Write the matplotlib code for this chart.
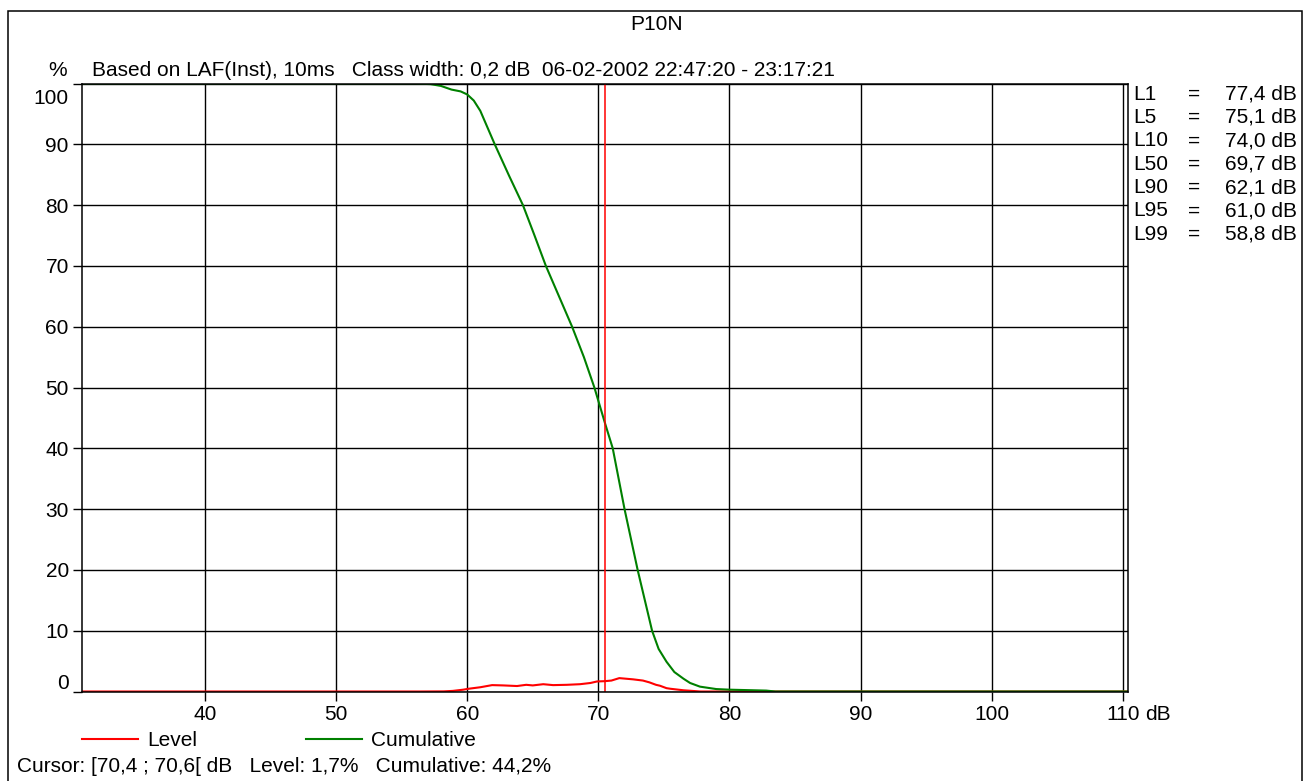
import matplotlib
matplotlib.use('Agg')
from matplotlib import pyplot as plt
from matplotlib.patches import Rectangle
from matplotlib.transforms import ScaledTranslation

plt.rcParams['font.family'] = ['Liberation Sans', 'DejaVu Sans']

# cumulative distribution (percent of time level exceeded)
cum_db = [30.6, 56.0, 57.2, 58.0, 58.8, 59.5, 60.0, 60.5, 61.0, 61.5, 62.1, 63.2, 64.25,
          65.1, 66.0, 67.0, 68.0, 68.9, 69.7, 70.5, 71.1, 72.0, 73.0, 74.1, 74.6,
          75.2, 75.8, 76.5, 77.0, 77.75, 79.0, 80.0, 82.8, 83.5, 110.4]
cum_pct = [100, 100, 99.9, 99.6, 99.0, 98.7, 98.2, 97.2, 95.5, 93.0, 90, 84.8, 80,
           75.2, 70, 65, 60, 55, 50, 44.2, 40, 30, 20, 10, 7.0,
           4.9, 3.2, 2.1, 1.4, 0.8, 0.4, 0.3, 0.15, 0.0, 0.0]

# level per 0.2 dB class
lev_db = [30.6, 56.4, 58.2, 58.9, 59.7, 60.1, 61.0, 61.9, 62.75, 63.8, 64.5, 65.0,
          65.8, 66.55, 67.6, 68.6, 69.4, 69.9, 70.5, 71.0, 71.6, 72.65, 73.4, 73.9,
          74.4, 74.7, 75.2, 75.5, 76.5, 77.8, 110.4]
lev_pct = [0, 0, 0.02, 0.1, 0.3, 0.45, 0.7, 1.05, 1.0, 0.9, 1.1, 1.0,
           1.2, 1.05, 1.1, 1.2, 1.4, 1.65, 1.7, 1.8, 2.2, 2.0, 1.8, 1.5,
           1.1, 0.95, 0.55, 0.45, 0.2, 0.0, 0.0]

cursor_db = 70.5
x_ticks = [40, 50, 60, 70, 80, 90, 100, 110]
y_ticks = [0, 10, 20, 30, 40, 50, 60, 70, 80, 90, 100]

stat_names = ['L1', 'L5', 'L10', 'L50', 'L90', 'L95', 'L99']
stat_values = ['77,4 dB', '75,1 dB', '74,0 dB', '69,7 dB', '62,1 dB', '61,0 dB', '58,8 dB']

W, H = 1311, 781
FS = 15

fig = plt.figure(figsize=(W / 100, H / 100), dpi=100)
fig.patches.append(Rectangle((7.5 / W, -0.05), (1302 - 7.5) / W, 1.05 - 10.7 / H,
                             transform=fig.transFigure, fill=False,
                             edgecolor='black', linewidth=1.1))

ax = fig.add_axes([82 / W, 1 - 691.5 / H, (1128 - 82) / W, (691.5 - 83.5) / H])
ax.set_xlim(30.62, 110.4)
ax.set_ylim(0, 100)

ax.set_xticks(x_ticks)
ax.set_yticks(y_ticks)
ax.grid(True, color='black', linewidth=1.0)
ax.set_axisbelow(True)
for s in ax.spines.values():
    s.set_linewidth(1.1)
ax.tick_params(direction='out', length=6.5, width=1.0, labelsize=FS)
ax.tick_params(axis='x', pad=3.5)
ax.tick_params(axis='y', pad=3.0)

# keep the end labels inside the axis range
ticks = ax.yaxis.get_major_ticks()
lab0, lab100 = ticks[0].label1, ticks[-1].label1
lab0.set_transform(lab0.get_transform() + ScaledTranslation(0, 10 / 100, fig.dpi_scale_trans))
lab100.set_transform(lab100.get_transform() + ScaledTranslation(0, -13.5 / 100, fig.dpi_scale_trans))

ax.plot(lev_db, lev_pct, color='#ff0000', linewidth=1.5, label='Level')
ax.plot(cum_db, cum_pct, color='#008000', linewidth=1.5, label='Cumulative')
ax.axvline(cursor_db, color='#ff0000', linewidth=1.1)

fig.text(657 / W, 1 - 24 / H, 'P10N', fontsize=FS, ha='center', va='center')
fig.text(58 / W, 1 - 71 / H, '%', fontsize=FS, ha='center', va='center')
fig.text(92 / W, 1 - 70 / H,
         'Based on LAF(Inst), 10ms   Class width: 0,2 dB  06-02-2002 22:47:20 - 23:17:21',
         fontsize=FS, ha='left', va='center')
fig.text(1145 / W, 1 - 714 / H, 'dB', fontsize=FS, ha='left', va='center')

for i, (n, v) in enumerate(zip(stat_names, stat_values)):
    y = 1 - (94 + 23.4 * i) / H
    fig.text(1133 / W, y, n, fontsize=FS, ha='left', va='center')
    fig.text(1194 / W, y, '=', fontsize=FS, ha='center', va='center')
    fig.text(1297 / W, y, v, fontsize=FS, ha='right', va='center')

fig.legend(loc='center left', bbox_to_anchor=(82 / W, 1 - 741 / H), ncol=2,
           frameon=False, fontsize=FS, handlelength=2.7, handletextpad=0.43,
           columnspacing=5.2, borderpad=0, borderaxespad=0)

fig.text(17 / W, 1 - 767 / H,
         'Cursor: [70,4 ; 70,6[ dB   Level: 1,7%   Cumulative: 44,2%',
         fontsize=FS, ha='left', va='center')

fig.savefig('out.png', dpi=100)
